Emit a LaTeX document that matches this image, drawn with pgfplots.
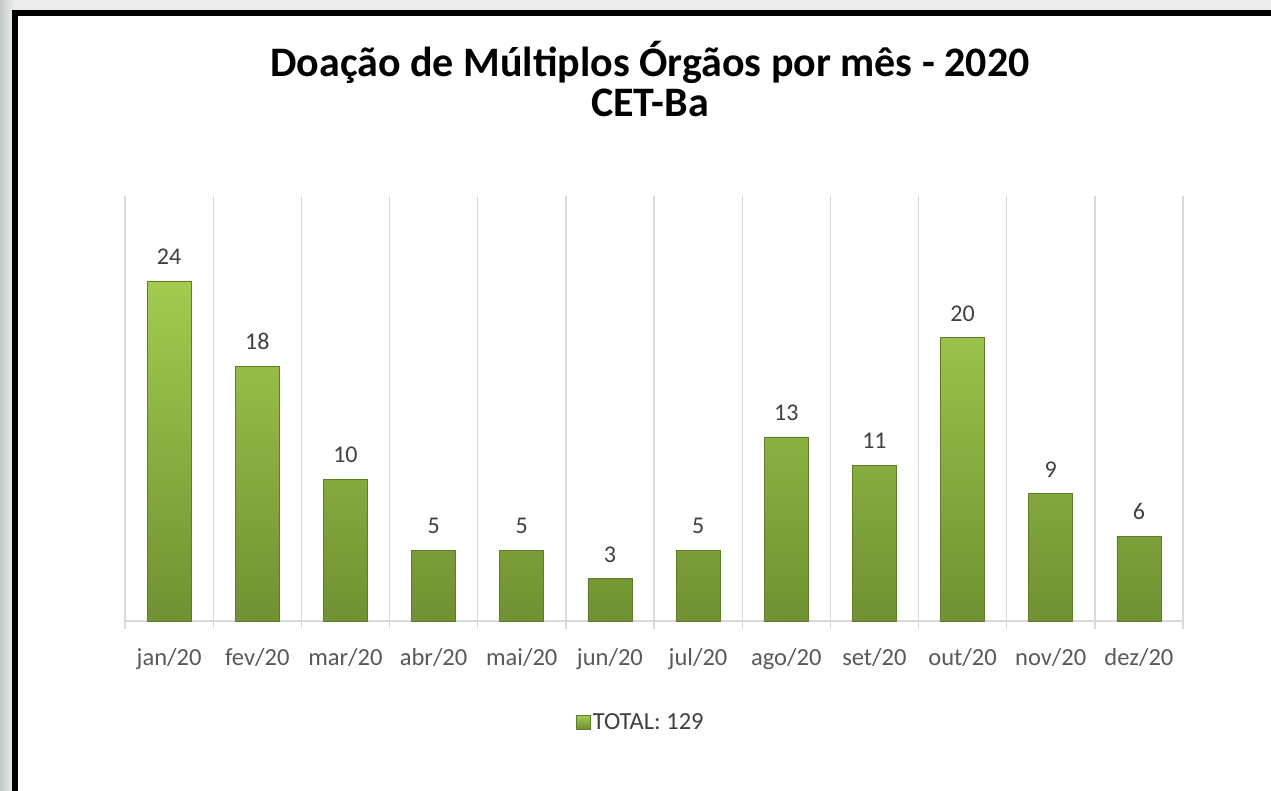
\documentclass[border=0pt]{standalone}
\usepackage{pgfplots}
\pgfplotsset{compat=1.18}
\usepackage{fontspec}
\setmainfont{Carlito}
\definecolor{bgL}{HTML}{C5C9C9}
\definecolor{bgT}{HTML}{ECECEC}
\definecolor{gridc}{HTML}{D9D9D9}
\definecolor{barTop}{HTML}{A3CB4F}
\definecolor{barBot}{HTML}{6F9132}
\definecolor{barEdge}{HTML}{5E7C2A}
\definecolor{lblc}{HTML}{404040}
\definecolor{tickc}{HTML}{595959}
\begin{document}
\begin{tikzpicture}[x=0.75pt,y=-0.75pt]
\useasboundingbox (0,0) rectangle (1271,791);
\clip (0,0) rectangle (1271,791);
\fill[bgT] (0,0) rectangle (1271,791);
\shade[left color=bgL, right color=bgT] (0,0) rectangle (14,791);
\fill[white] (15,13) rectangle (1300,820);
\draw[black, line width=4.5pt] (15,820) -- (15,13) -- (1300,13);
\node[font=\bfseries\fontsize{31.5pt}{36pt}\selectfont, anchor=center] at (650,62) {Doação de Múltiplos Órgãos por mês - 2020};
\node[font=\bfseries\fontsize{31.5pt}{36pt}\selectfont, anchor=center] at (650,103) {CET-Ba};
\begin{axis}[
  at={(93.75pt,-465.75pt)}, anchor=south west,
  scale only axis, width=793.5pt, height=318.75pt,
  xmin=-0.5, xmax=11.5, ymin=0, ymax=30,
  axis x line*=bottom, axis y line=none,
  x axis line style={gridc, line width=1pt},
  xtick={0,...,11},
  xticklabels={jan/20,fev/20,mar/20,abr/20,mai/20,jun/20,jul/20,ago/20,set/20,out/20,nov/20,dez/20},
  major tick length=0pt,
  minor xtick={-0.5,0.5,...,11.5},
  minor tick length=6pt,
  tick align=outside,
  minor tick style={gridc, line width=1pt},
  minor x grid style={gridc, line width=1pt},
  xminorgrids,
  xticklabel style={font=\fontsize{18.4pt}{21pt}\selectfont, text=tickc, anchor=north, inner sep=0pt, yshift=-20.5pt},
  ybar, bar width=33pt,
  nodes near coords,
  /pgf/number format/assume math mode=true,
  every node near coord/.append style={font=\fontsize{18pt}{21pt}\selectfont, text=lblc, anchor=south, inner sep=0pt, yshift=12pt},
  legend style={at={(0.488,-0.238)}, anchor=center, draw=none, fill=none, font=\fontsize{18.4pt}{21pt}\selectfont, text=lblc, inner sep=0pt, /tikz/every even column/.append style={column sep=0pt}},
  legend cell align=left,
  legend image code/.code={\shade[top color=barTop, bottom color=barBot] (0pt,-5pt) rectangle (10pt,5pt);},
]
\addplot[top color=barTop, bottom color=barBot, draw=barEdge, line width=0.4pt] coordinates {
(0,24) (1,18) (2,10) (3,5) (4,5) (5,3) (6,5) (7,13) (8,11) (9,20) (10,9) (11,6)};
\addlegendentry{TOTAL: 129}
\end{axis}
\end{tikzpicture}
\end{document}
